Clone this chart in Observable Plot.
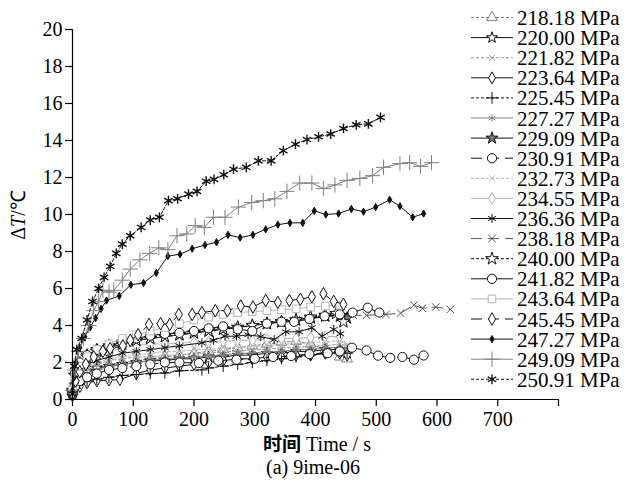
<!DOCTYPE html>
<html><head><meta charset="utf-8">
<script src="https://cdn.jsdelivr.net/npm/d3@7"></script>
<script src="https://cdn.jsdelivr.net/npm/@observablehq/plot@0.6"></script>
<style>
body{margin:0;background:#fff;}
#chart{width:637px;height:484px;}
#chart svg text{font-family:'Liberation Serif','Times New Roman',serif;}
</style></head><body><div id="chart"></div>
<script>
// ---- data ----
const pressures = ["218.18 MPa","220.00 MPa","221.82 MPa","223.64 MPa","225.45 MPa","227.27 MPa","229.09 MPa","230.91 MPa","232.73 MPa","234.55 MPa","236.36 MPa","238.18 MPa","240.00 MPa","241.82 MPa","243.64 MPa","245.45 MPa","247.27 MPa","249.09 MPa","250.91 MPa"];

const s21818 = [[0,0.4],[4,0.9],[12,1.3],[24,1.6],[40,1.8],[60,1.9],[82,2.0],[105,2.1],[128,2.2],[152,2.3],[176,2.4],[200,2.5],[224,2.6],[248,2.7],[272,2.8],[296,2.9],[320,3.0],[344,3.1],[368,3.15],[392,3.0],[416,2.7],[440,2.3],[452,2.2]];
const s22000 = [[0,0.3],[4,0.8],[12,1.2],[24,1.5],[40,1.7],[60,1.8],[82,1.9],[105,2.0],[128,2.1],[152,2.1],[176,2.2],[200,2.2],[224,2.3],[248,2.3],[272,2.4],[296,2.4],[320,2.5],[344,2.5],[368,2.6],[392,2.6],[416,2.7],[440,2.7],[452,2.5]];
const s22182 = [[0,0.5],[4,1.0],[12,1.4],[24,1.7],[40,1.9],[60,2.1],[82,2.2],[105,2.3],[128,2.3],[152,2.4],[176,2.4],[200,2.5],[224,2.5],[248,2.6],[272,2.6],[296,2.7],[320,2.7],[344,2.8],[368,2.8],[392,2.9],[416,2.9],[440,3.0],[452,2.9]];
const s22364 = [[0,0.2],[4,0.5],[12,0.7],[24,0.9],[40,1.0],[60,1.05],[78,1.07],[105,1.4],[128,1.6],[152,1.7],[176,1.8],[200,1.9],[224,2.0],[248,2.1],[272,2.2],[296,2.2],[320,2.3],[344,2.3],[368,2.4],[392,2.4],[416,2.5],[440,2.5],[452,2.4]];
const s22545 = [[0,0.3],[4,0.6],[12,0.9],[24,1.0],[40,1.1],[60,1.2],[82,1.3],[105,1.35],[128,1.4],[152,1.43],[176,1.55],[213,1.6],[224,1.7],[248,1.8],[272,1.9],[296,2.0],[320,2.1],[344,2.2],[368,2.3],[392,2.4],[416,2.5],[440,2.6],[452,2.5]];
const s22727 = [[0,0.4],[4,0.9],[12,1.2],[24,1.4],[40,1.6],[60,1.8],[82,1.9],[105,2.0],[128,2.1],[152,2.2],[176,2.25],[200,2.3],[224,2.35],[248,2.4],[272,2.5],[296,2.5],[320,2.6],[344,2.6],[368,2.7],[392,2.7],[416,2.8],[440,2.8],[452,2.7]];
const s22909 = [[0,0.5],[4,1.3],[12,2.0],[24,2.4],[40,2.7],[60,2.9],[82,3.1],[105,3.2],[128,3.3],[152,3.4],[176,3.5],[200,3.6],[224,3.7],[248,3.8],[272,3.9],[296,4.0],[320,4.1],[344,4.2],[368,4.3],[392,4.4],[416,4.5],[440,4.5],[452,4.4]];
const s23091 = [[0,0.3],[4,0.7],[12,1.0],[24,1.2],[40,1.4],[60,1.6],[82,1.7],[105,1.8],[128,1.9],[152,2.0],[176,2.0],[208,1.97],[240,2.1],[270,2.15],[300,2.2],[330,2.3],[360,2.35],[390,2.45],[420,2.5],[440,2.6],[460,2.8],[484,2.65],[503,2.37],[523,2.25],[543,2.3],[562,2.15],[578,2.38]];
const s23273 = [[0,0.3],[4,1.0],[12,1.5],[24,1.8],[40,2.0],[60,2.2],[82,2.3],[105,2.4],[128,2.5],[152,2.6],[176,2.6],[200,2.7],[224,2.7],[248,2.8],[272,2.8],[296,2.9],[320,2.9],[344,3.0],[368,3.0],[392,3.1],[416,3.1],[440,3.2],[452,3.0]];
const s23455 = [[0,0.6],[4,1.9],[12,2.0],[21,2.07],[40,2.3],[60,2.6],[82,2.8],[105,2.9],[128,3.0],[152,3.0],[176,3.05],[200,3.1],[224,3.1],[248,3.15],[272,3.2],[296,3.2],[320,3.25],[344,3.3],[368,3.3],[392,3.35],[416,3.4],[440,3.4]];
const s23636 = [[0,0.3],[4,1.0],[12,1.5],[24,1.9],[40,2.1],[60,2.3],[82,2.5],[105,2.6],[128,2.7],[152,2.8],[176,2.9],[213,3.06],[232,3.2],[251,3.42],[270,3.42],[289,3.5],[310,3.4],[332,3.24],[351,3.66],[373,3.66],[394,3.88],[411,3.42],[430,3.79],[441,3.55]];
const s23818 = [[0,0.3],[4,1.1],[12,1.7],[24,2.1],[40,2.4],[60,2.7],[82,2.9],[105,3.1],[128,3.3],[152,3.4],[176,3.5],[200,3.6],[224,3.75],[248,3.85],[272,3.95],[296,4.05],[320,4.15],[344,4.25],[368,4.3],[392,4.4],[416,4.45],[440,4.5],[462,4.56],[484,4.55],[516,4.6],[540,4.67],[562,5.1],[576,4.93],[598,5.0],[622,4.87]];
const s24000 = [[0,0.4],[4,1.3],[12,1.9],[24,2.3],[40,2.6],[60,2.8],[82,3.0],[105,3.2],[128,3.3],[152,3.4],[176,3.5],[200,3.6],[224,3.7],[248,3.8],[272,3.9],[296,4.0],[320,4.1],[344,4.2],[368,4.3],[392,4.45],[416,4.55],[434,4.65],[446,4.2]];
const s24182 = [[0,0.4],[4,1.4],[12,2.0],[24,2.4],[40,2.7],[60,2.9],[82,3.1],[105,3.3],[128,3.45],[152,3.55],[176,3.6],[200,3.7],[224,3.85],[248,3.95],[272,3.8],[296,3.7],[320,4.1],[344,4.2],[365,4.2],[390,4.35],[415,4.5],[440,4.6],[461,4.7],[486,4.96],[505,4.7]];
const s24364 = [[0,0.5],[4,1.2],[12,1.8],[24,2.3],[40,2.7],[60,3.0],[82,3.3],[105,3.5],[128,3.7],[152,3.9],[176,4.1],[200,4.3],[224,4.45],[248,4.6],[272,4.7],[296,4.75],[320,4.8],[344,4.85],[368,4.9],[392,5.0],[416,5.05],[440,5.1]];
const s24545 = [[0,0.3],[5,1.0],[12,1.5],[22,1.9],[35,2.3],[50,2.6],[62,2.75],[83,2.9],[95,3.2],[108,3.5],[126,4.06],[145,4.1],[160,4.05],[175,4.6],[197,4.6],[213,4.7],[235,4.8],[255,4.8],[277,5.05],[297,5.0],[318,5.35],[338,5.25],[357,5.35],[375,5.42],[394,5.55],[413,5.72],[430,5.3],[446,5.15]];
const s24727 = [[0,0.5],[3,1.2],[6,2.0],[12,2.8],[20,3.4],[29,3.9],[38,4.4],[47,4.9],[56,5.35],[77,5.6],[96,6.2],[117,6.3],[138,6.85],[157,7.75],[177,7.85],[197,8.15],[218,8.35],[237,8.5],[256,8.9],[276,8.75],[297,8.9],[318,9.2],[338,9.45],[358,9.55],[379,9.55],[398,10.2],[417,10.0],[438,10.05],[459,10.3],[479,10.15],[499,10.4],[522,10.8],[539,10.45],[560,9.85],[578,10.05]];
const s24909 = [[0,0.5],[4,1.6],[10,2.6],[18,3.3],[27,4.0],[35,4.8],[43,5.3],[50,5.9],[60,5.8],[68,5.9],[82,6.45],[95,7.05],[111,7.55],[127,7.9],[142,8.2],[157,8.1],[172,8.85],[188,8.95],[202,9.4],[217,9.3],[232,9.85],[251,9.85],[273,10.4],[295,10.65],[314,10.75],[333,10.85],[353,11.25],[374,11.7],[394,11.7],[413,11.4],[432,11.6],[452,11.85],[473,11.95],[494,12.1],[512,12.55],[539,12.75],[555,12.8],[573,12.6],[591,12.8]];
const s25091 = [[0,0.3],[3,1.8],[7,2.7],[15,3.3],[24,4.3],[33,5.3],[43,6.0],[52,6.6],[62,7.2],[72,7.9],[82,8.4],[95,8.85],[113,9.3],[128,9.7],[143,9.85],[158,10.75],[173,10.85],[191,11.1],[205,11.25],[220,11.8],[233,11.9],[249,12.15],[265,12.45],[286,12.55],[306,12.9],[327,12.9],[347,13.45],[367,13.8],[386,14.05],[405,14.2],[425,14.35],[446,14.65],[467,14.85],[487,14.9],[507,15.25]];

const xTicks = [0,100,200,300,400,500,600,700,800];
const xTickLabels = ["0","100","200","300","400","500","600","700",""];
const yTicks = [0,2,4,6,8,10,12,14,16,18,20];

const seriesData = [s21818,s22000,s22182,s22364,s22545,s22727,s22909,s23091,s23273,s23455,s23636,s23818,s24000,s24182,s24364,s24545,s24727,s24909,s25091];

// ---- styles ----
const BK = "#111", GR = "#808080", LG = "#b4b4b4", DG = "#555";
const SD = "3,2", LD = "11,6";
const styles = [
  {stroke:GR, dash:SD, symbol:"triangle", r:4, fill:"white"},
  {stroke:BK, dash:null, symbol:"star", r:3.5, fill:"white"},
  {stroke:"#999", dash:SD, symbol:"times", r:3, fill:"none"},
  {stroke:BK, dash:null, symbol:"diamond", r:3.6, fill:"white"},
  {stroke:BK, dash:SD, symbol:"plus", r:3.8, fill:"none"},
  {stroke:GR, dash:null, symbol:"asterisk", r:3.8, fill:"none"},
  {stroke:BK, dash:null, symbol:"star", r:3.8, fill:"#777"},
  {stroke:BK, dash:LD, symbol:"circle", r:4.6, fill:"white"},
  {stroke:LG, dash:SD, symbol:"times", r:3, fill:"none"},
  {stroke:LG, dash:null, symbol:"diamond", r:3.6, fill:"white"},
  {stroke:BK, dash:null, symbol:"asterisk", r:4.2, fill:"none"},
  {stroke:DG, dash:LD, symbol:"times", r:3.5, fill:"none"},
  {stroke:BK, dash:SD, symbol:"star", r:4, fill:"white"},
  {stroke:BK, dash:null, symbol:"circle", r:4.6, fill:"white"},
  {stroke:LG, dash:null, symbol:"square", r:4.3, fill:"white"},
  {stroke:BK, dash:LD, symbol:"diamond", r:3.8, fill:"white"},
  {stroke:BK, dash:null, symbol:"diamond", r:2.2, fill:BK},
  {stroke:GR, dash:null, symbol:"plus", r:5, fill:"none"},
  {stroke:BK, dash:SD, symbol:"asterisk", r:4.6, fill:"none", sw:1.4}
];

const FONT = "'Liberation Serif', 'Times New Roman', serif";

const marks = [];
seriesData.forEach((s, i) => {
  const st = styles[i];
  marks.push(Plot.line(s, {x: d => d[0], y: d => d[1], stroke: st.stroke, strokeWidth: 1, strokeDasharray: st.dash || undefined}));
  marks.push(Plot.dot(s, {x: d => d[0], y: d => d[1], symbol: st.symbol, r: st.r, stroke: st.stroke, fill: st.fill, strokeWidth: st.sw || 1}));
});

const chart = Plot.plot({
  width: 637, height: 484,
  marginLeft: 72, marginRight: 79, marginTop: 29, marginBottom: 85,
  style: `font-family: ${FONT}; font-size: 20px; background: white; color: black; overflow: visible;`,
  x: {domain: [0, 800]},
  y: {domain: [0, 20]},
  marks: [
    ...marks,
    Plot.ruleX([0], {stroke: "black", strokeWidth: 1.2}),
    Plot.ruleY([0], {stroke: "black", strokeWidth: 1.2}),
    Plot.axisX({ticks: xTicks, tickFormat: d => xTickLabels[xTicks.indexOf(d)], tickSize: 7, tickPadding: 5, label: null, strokeWidth: 1.2, fontSize: 20, fontFamily: FONT, fill: "black"}),
    Plot.axisY({ticks: yTicks, tickSize: 7, tickPadding: 3, label: null, strokeWidth: 1.2, fontSize: 20, fontFamily: FONT, fill: "black"})
  ]
});
document.getElementById("chart").appendChild(chart);

// ---- extra text & legend ----
const svg = d3.select(chart);

const ylab = svg.append("text")
  .attr("transform", "translate(25,215) rotate(-90)")
  .attr("text-anchor", "middle")
  .style("font-family", FONT).style("font-size", "20px").attr("fill", "black");
ylab.append("tspan").text("Δ");
ylab.append("tspan").style("font-style", "italic").text("T");
ylab.append("tspan").text("/℃");

const xlab = svg.append("text")
  .attr("x", 317).attr("y", 451)
  .attr("text-anchor", "middle")
  .style("font-family", FONT).style("font-size", "20px").attr("fill", "black");
xlab.append("tspan").style("font-family", "'Noto Sans CJK SC', sans-serif").style("font-weight", "bold").style("font-size", "19px").text("时间");
xlab.append("tspan").text(" Time / s");

svg.append("text")
  .attr("x", 313).attr("y", 474)
  .attr("text-anchor", "middle")
  .style("font-family", FONT).style("font-size", "20px").attr("fill", "black")
  .text("(a) 9ime-06");

const symMap = {triangle: d3.symbolTriangle, star: d3.symbolStar, times: d3.symbolTimes, diamond: d3.symbolDiamond, plus: d3.symbolPlus, asterisk: d3.symbolAsterisk, circle: d3.symbolCircle, square: d3.symbolSquare};
const lg = svg.append("g");
pressures.forEach((p, i) => {
  const st = styles[i];
  const y = 17.5 + 20.1 * i;
  const row = lg.append("g");
  row.append("line").attr("x1", 471).attr("x2", 513).attr("y1", y).attr("y2", y)
    .attr("stroke", st.stroke).attr("stroke-width", 1).attr("stroke-dasharray", st.dash);
  row.append("path").attr("transform", `translate(492,${y})`)
    .attr("d", d3.symbol(symMap[st.symbol], Math.PI * st.r * st.r)())
    .attr("stroke", st.stroke).attr("fill", st.fill).attr("stroke-width", st.sw || 1);
  row.append("text").attr("x", 517).attr("y", y + 7.5)
    .attr("text-anchor", "start")
    .style("font-family", FONT).style("font-size", "21px").attr("fill", "black").text(p);
});
</script></body></html>
